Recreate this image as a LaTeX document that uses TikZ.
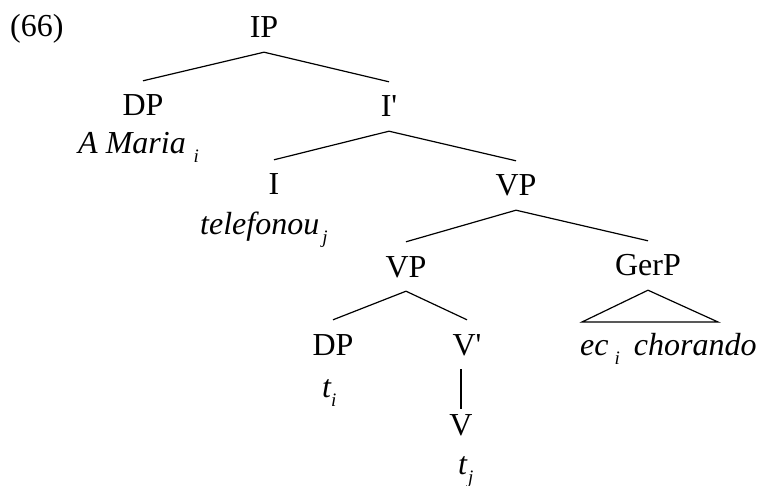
\documentclass[tikz,border=0pt]{standalone}
\usepackage{fontspec}
\setmainfont{Liberation Serif}

\newcommand{\idx}[1]{\raisebox{-9pt}{\fontsize{19}{19}\selectfont\itshape #1}}

\begin{document}
\begin{tikzpicture}[x=1pt, y=-1pt,
    cat/.style={anchor=base, font=\fontsize{32}{38}\selectfont, inner xsep=0pt, inner ysep=14pt, text height=21pt, text depth=0pt},
    word/.style={anchor=base west, font=\fontsize{32}{38}\selectfont\itshape, inner sep=0pt},
    branch/.style={line width=1.2pt}
]
\useasboundingbox (0,0) rectangle (760,486);

\node[word, font=\fontsize{32}{38}\selectfont] (num) at (10,37) {(66)};

% categories
\node[cat] (ip) at (264,38) {IP};
\node[cat] (dpa) at (143,116) {DP};
\node[cat] (ibar) at (389,117) {I\textquotesingle};
\node[cat] (infl) at (274,195) {I};
\node[cat] (vpa) at (516,196) {VP};
\node[cat] (vpb) at (406,277) {VP};
\node[cat] (gerp) at (648,276) {GerP};
\node[cat] (dpb) at (333,355) {DP};
\node[cat] (vbar) at (467,355) {V\textquotesingle};
\node[cat] (verb) at (461,435) {V};

% words
\node[word] (maria) at (78,154) {A Maria\kern8pt\idx{i}};
\node[word] (telef) at (200,235) {telefonou\kern3pt\idx{j}};
\node[word] (ti) at (322,397) {t\idx{i}};
\node[word] (tj) at (458,474) {t\kern1pt\idx{j}};
\node[word] (ecch) at (580,355) {ec\kern6pt\idx{i}\kern14pt chorando};

% branches
\draw[branch] (dpa.north) -- (ip.south) -- (ibar.north);
\draw[branch] (infl.north) -- (ibar.south) -- (vpa.north);
\draw[branch] (vpb.north) -- (vpa.south) -- (gerp.north);
\draw[branch] (dpb.north) -- (vpb.south) -- (vbar.north);
\draw[branch, shorten >=-9pt] (verb |- vbar.south) -- (verb.north);

% triangle over GerP
\coordinate (gl) at (582,322);
\coordinate (gr) at (718,322);
\draw[branch] (gl) -- (gerp.south) -- (gr) -- cycle;
\end{tikzpicture}
\end{document}
